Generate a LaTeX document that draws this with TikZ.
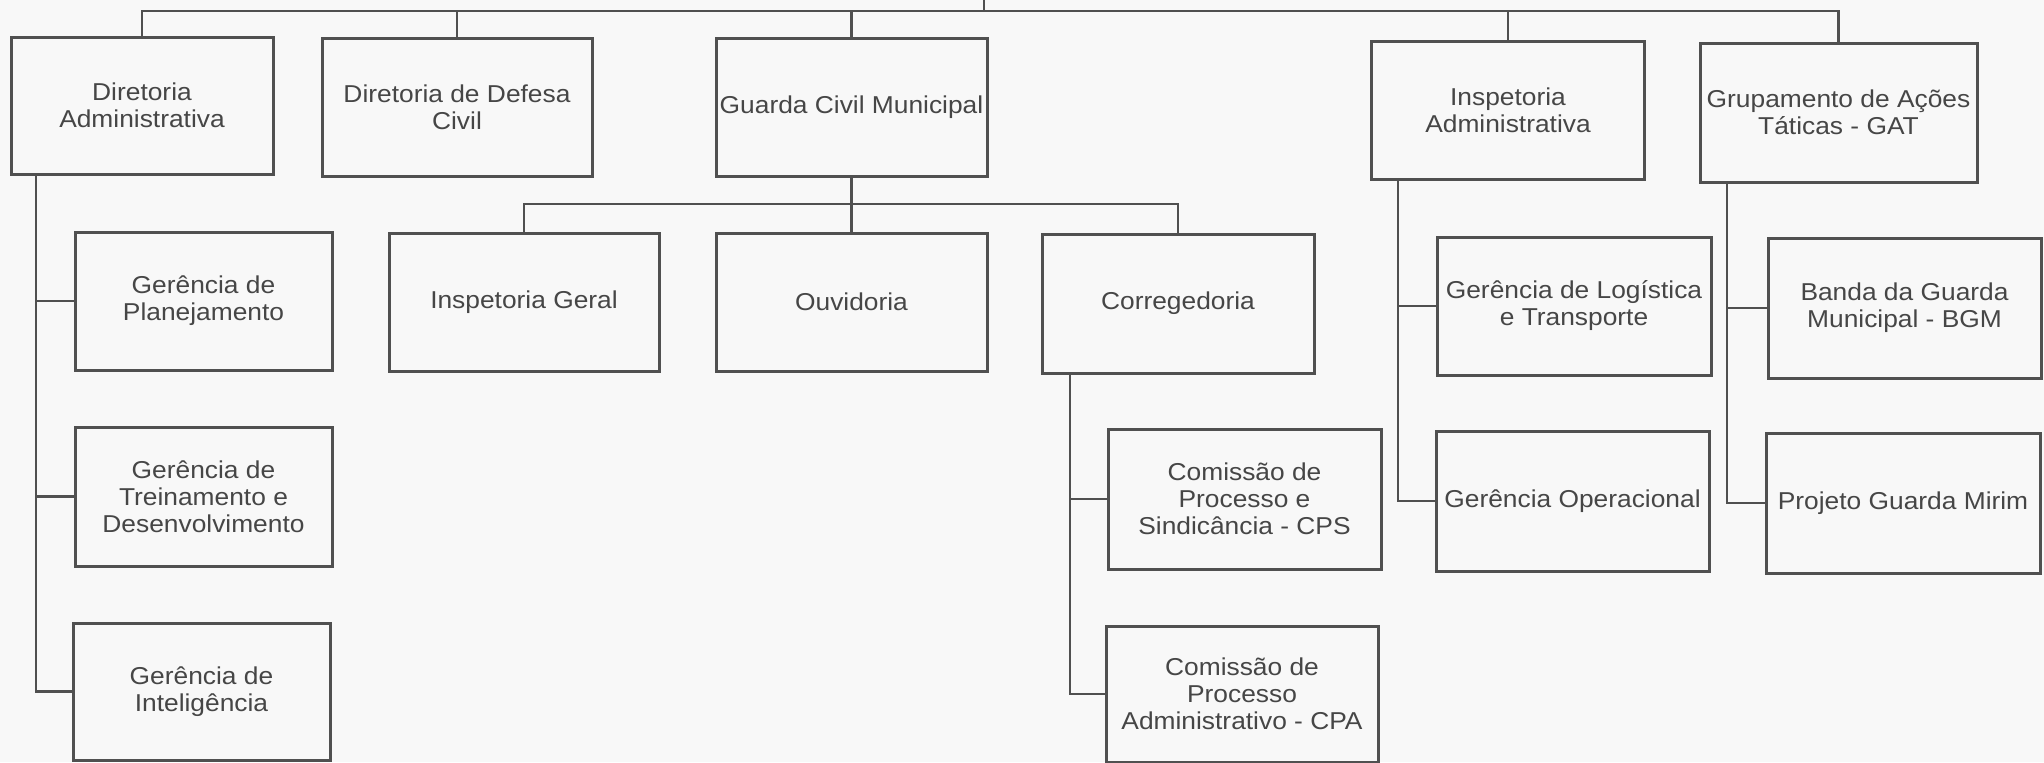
\documentclass[tikz,border=0pt]{standalone}
\usepackage{fontspec}
\setmainfont[FakeStretch=1.08]{Liberation Sans}
\definecolor{ln}{RGB}{80,80,80}
\definecolor{tx}{RGB}{70,70,70}
\definecolor{bg}{RGB}{248,248,248}
\begin{document}
\begin{tikzpicture}[x=0.5pt,y=-0.5pt,
  bx/.style 2 args={draw=ln, line width=1.5pt, rectangle, inner sep=0pt, align=center,
    text=tx, font=\fontsize{12.2}{13.5}\selectfont,
    minimum width=#1*0.5pt, minimum height=#2*0.5pt},
  cn/.style={draw=ln, line width=1.2pt}]
\fill[bg] (0,0) rectangle (2044,762);
\useasboundingbox (0,0) rectangle (2044,762);
% level 1
\node[bx={262}{137}] (diradm) at (142,105.5) {Diretoria\\Administrativa};
\node[bx={270}{138}] (dirdef) at (457,107) {Diretoria de Defesa\\Civil};
\node[bx={271}{138}] (guarda) at (851.5,107) {Guarda Civil Municipal};
\node[bx={273}{138}] (insadm) at (1508,110) {Inspetoria\\Administrativa};
\node[bx={277}{139}] (gat) at (1838.5,112.5) {Grupamento de Ações\\Táticas - GAT};
% level 2 under Diretoria Administrativa
\node[bx={257}{138}] (plan) at (203.5,301) {Gerência de\\Planejamento};
\node[bx={257}{139}] (trein) at (203.5,496.5) {Gerência de\\Treinamento e\\Desenvolvimento};
\node[bx={257}{137}] (intel) at (201.5,691.5) {Gerência de\\Inteligência};
% level 2 under Guarda
\node[bx={270}{138}] (insger) at (524,302) {Inspetoria Geral};
\node[bx={271}{138}] (ouv) at (851.5,302) {Ouvidoria};
\node[bx={272}{139}] (corr) at (1178,303.5) {Corregedoria};
\node[bx={273}{140}] (cps) at (1244.5,499) {Comissão de\\Processo e\\Sindicância - CPS};
\node[bx={272}{136}] (cpa) at (1242,694) {Comissão de\\Processo\\Administrativo - CPA};
% level 2 under Inspetoria Administrativa
\node[bx={274}{138}] (logi) at (1574,306) {Gerência de Logística\\e Transporte};
\node[bx={273}{140}] (oper) at (1572.5,501) {Gerência Operacional};
% level 2 under GAT
\node[bx={273}{140}] (banda) at (1904.5,308) {Banda da Guarda\\Municipal - BGM};
\node[bx={274}{140}] (mirim) at (1903,503) {Projeto Guarda Mirim};
% connectors
\coordinate (bar) at (984,11);
\coordinate (topend) at (984,0);
\draw[cn] (topend) -- (bar);
\draw[cn] (diradm.north) -- (diradm.north |- bar) -- (gat.north |- bar) -- (gat.north);
\draw[cn] (dirdef.north) -- (dirdef.north |- bar);
\draw[cn] (guarda.north) -- (guarda.north |- bar);
\draw[cn] (insadm.north) -- (insadm.north |- bar);
\coordinate (bar2) at (851.5,204);
\draw[cn] (guarda.south) -- (ouv.north);
\draw[cn] (insger.north) -- (insger.north |- bar2) -- (corr.north |- bar2) -- (corr.north);
% spines
\coordinate (sp1) at (36,0);
\draw[cn] (diradm.south -| sp1) |- (intel.west);
\draw[cn] (plan.west -| sp1) -- (plan.west);
\draw[cn] (trein.west -| sp1) -- (trein.west);
\coordinate (sp2) at (1070,0);
\draw[cn] (corr.south -| sp2) |- (cpa.west);
\draw[cn] (cps.west -| sp2) -- (cps.west);
\coordinate (sp3) at (1398,0);
\draw[cn] (insadm.south -| sp3) |- (oper.west);
\draw[cn] (logi.west -| sp3) -- (logi.west);
\coordinate (sp4) at (1727,0);
\draw[cn] (gat.south -| sp4) |- (mirim.west);
\draw[cn] (banda.west -| sp4) -- (banda.west);
\end{tikzpicture}
\end{document}
